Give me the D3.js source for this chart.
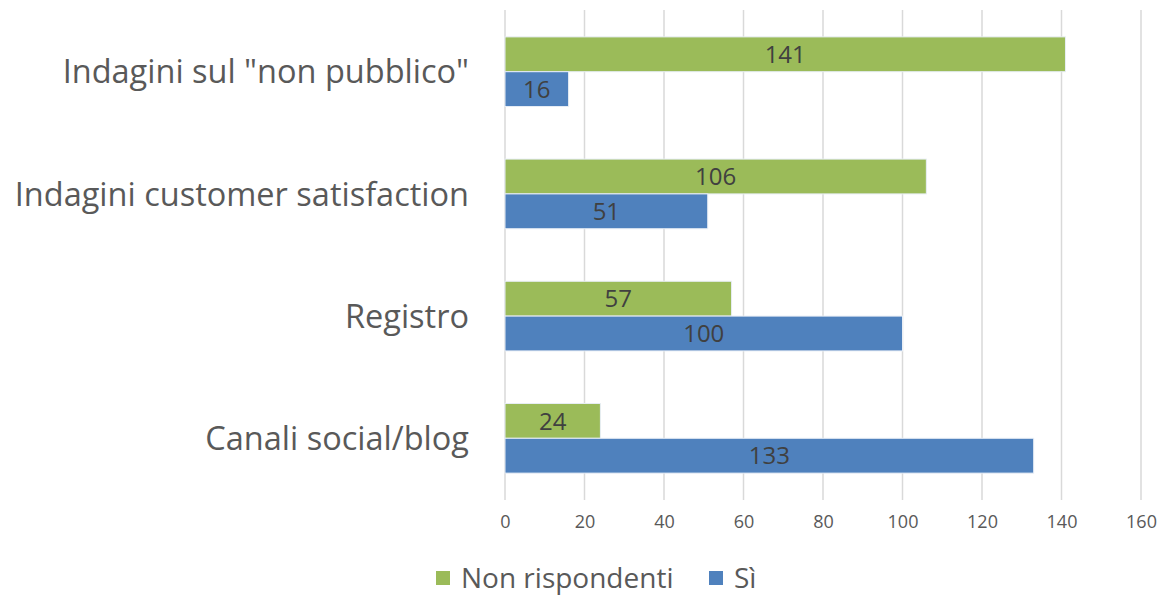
<!DOCTYPE html>
<html>
<head>
<meta charset="utf-8">
<script src="https://cdn.jsdelivr.net/npm/d3@7"></script>
<style>
  body { margin: 0; background: #fff; }
  svg { display: block; font-family: "Open Sans", "Noto Sans", sans-serif; }
</style>
</head>
<body>
<div id="chart"></div>
<script>
const categories = ["Indagini sul \"non pubblico\"", "Indagini customer satisfaction", "Registro", "Canali social/blog"];
const nonRispondenti = [141, 106, 57, 24];
const si = [16, 51, 100, 133];
const seriesNames = ["Non rispondenti", "Sì"];
const xTicks = [0, 20, 40, 60, 80, 100, 120, 140, 160];

const width = 1162;
const height = 595;
const colors = ["#9BBB59", "#4F81BD"];

const svg = d3.select("#chart").append("svg").attr("width", width).attr("height", height);

const x = d3.scaleLinear().domain([0, 160]).range([505, 1141]);
const y = d3.scaleBand().domain(categories).range([10, 500]).paddingInner(0.43).paddingOuter(0.22);
const ySub = d3.scaleBand().domain(seriesNames).range([0, y.bandwidth()]);

// gridlines
svg.append("g")
  .selectAll("line")
  .data(xTicks)
  .join("line")
  .attr("x1", (d) => x(d))
  .attr("x2", (d) => x(d))
  .attr("y1", 10)
  .attr("y2", 500)
  .attr("stroke", "#d9d9d9")
  .attr("stroke-width", 1.5);

// x axis labels
const xAxis = svg.append("g")
  .attr("transform", "translate(0,515)")
  .call(d3.axisBottom(x).tickValues(xTicks).tickSize(0).tickPadding(0));
xAxis.select(".domain").remove();
xAxis.selectAll("text")
  .attr("fill", "#595959")
  .attr("font-size", 18)
  .attr("font-family", "\"Open Sans\", sans-serif");

const rows = categories.map((c, i) => ({ cat: c, values: [nonRispondenti[i], si[i]] }));

const groups = svg.append("g")
  .selectAll("g")
  .data(rows)
  .join("g")
  .attr("transform", (d) => `translate(0,${y(d.cat)})`);

const bars = groups.selectAll("g")
  .data((d) => d.values.map((v, k) => ({ name: seriesNames[k], value: v, k })))
  .join("g");

bars.append("rect")
  .attr("x", x(0))
  .attr("y", (d) => ySub(d.name))
  .attr("width", (d) => x(d.value) - x(0))
  .attr("height", ySub.bandwidth())
  .attr("fill", (d) => colors[d.k])
  .attr("stroke", "#e8eef6")
  .attr("stroke-width", 1);

bars.append("text")
  .attr("x", (d) => (x(0) + x(d.value)) / 2)
  .attr("y", (d) => ySub(d.name) + ySub.bandwidth() / 2)
  .attr("dy", "0.36em")
  .attr("text-anchor", "middle")
  .attr("fill", "#404040")
  .attr("font-size", 24)
  .text((d) => d.value);

// category labels
svg.append("g")
  .selectAll("text")
  .data(categories)
  .join("text")
  .attr("x", 469)
  .attr("y", (d) => y(d) + y.bandwidth() / 2)
  .attr("dy", "0.36em")
  .attr("text-anchor", "end")
  .attr("fill", "#595959")
  .attr("font-size", 32.5)
  .text((d) => d);

// legend
const legendX = [436, 709];
const legend = svg.append("g")
  .selectAll("g")
  .data(seriesNames)
  .join("g")
  .attr("transform", (d, i) => `translate(${legendX[i]},571)`);

legend.append("rect")
  .attr("width", 14)
  .attr("height", 14)
  .attr("fill", (d, i) => colors[i]);

legend.append("text")
  .attr("x", 25)
  .attr("y", 7)
  .attr("dy", "0.36em")
  .attr("fill", "#595959")
  .attr("font-size", 28)
  .text((d) => d);
</script>
</body>
</html>
